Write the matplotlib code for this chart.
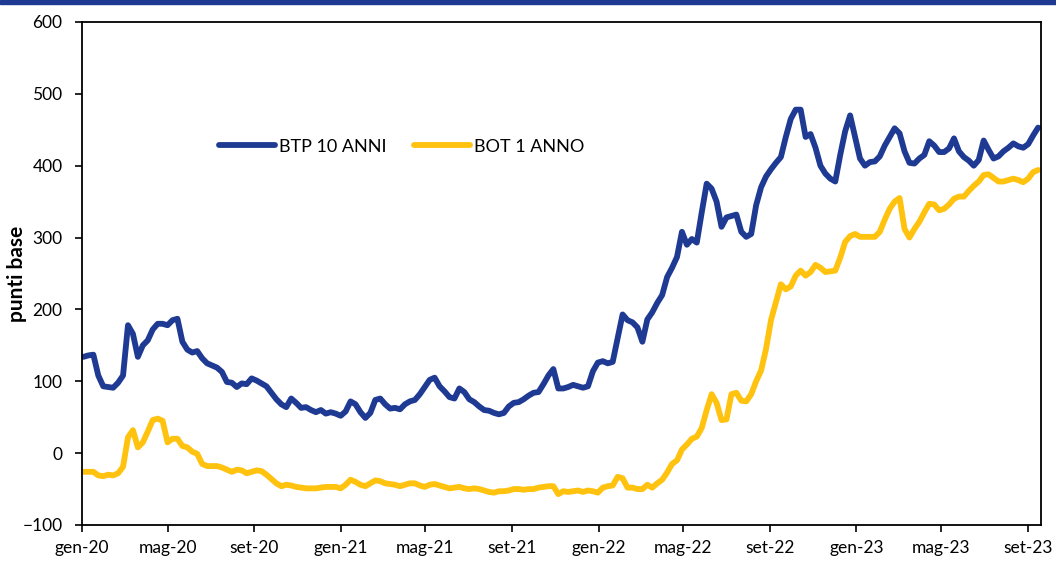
import numpy as np
import pandas as pd
import matplotlib
matplotlib.use('Agg')
import matplotlib.pyplot as plt
from matplotlib.patches import Rectangle

# Dati settimanali (punti base)
date = pd.date_range('2020-01-03', periods=194, freq='7D')

btp_10 = [134, 136, 137, 108, 93, 92, 91, 98, 108, 178,
          166, 134, 150, 157, 172, 180, 180, 178, 185, 187,
          155, 144, 140, 142, 132, 125, 122, 119, 113, 99,
          98, 92, 97, 96, 104, 101, 97, 93, 84, 75,
          68, 64, 76, 70, 63, 64, 60, 57, 60, 55,
          57, 55, 52, 58, 72, 68, 57, 49, 56, 74,
          76, 68, 62, 63, 61, 68, 72, 74, 82, 92,
          102, 105, 93, 86, 78, 76, 90, 85, 75, 71,
          65, 60, 59, 56, 54, 56, 65, 70, 71, 75,
          80, 84, 85, 96, 108, 117, 90, 90, 92, 95,
          93, 91, 93, 114, 126, 128, 125, 127, 160, 193,
          185, 182, 175, 155, 186, 196, 209, 220, 245, 258,
          273, 308, 290, 298, 293, 335, 375, 368, 350, 315,
          328, 330, 332, 308, 301, 305, 345, 370, 385, 395,
          404, 412, 440, 465, 478, 478, 440, 444, 425, 400,
          389, 382, 378, 415, 448, 470, 440, 410, 400, 405,
          406, 413, 428, 440, 452, 445, 420, 404, 403, 410,
          415, 434, 428, 419, 419, 424, 438, 420, 412, 407,
          400, 408, 435, 422, 410, 413, 420, 425, 431, 427,
          425, 430, 442, 453]

bot_1 = [-26, -26, -26, -31, -32, -30, -31, -28, -19, 22,
         32, 8, 15, 30, 46, 48, 45, 15, 20, 20,
         10, 8, 2, -1, -15, -18, -18, -18, -20, -23,
         -26, -23, -24, -28, -26, -24, -25, -30, -36, -42,
         -46, -44, -45, -47, -48, -49, -49, -49, -48, -47,
         -47, -47, -49, -44, -37, -40, -44, -46, -42, -38,
         -39, -42, -43, -44, -46, -44, -42, -42, -45, -47,
         -44, -43, -45, -47, -49, -48, -47, -49, -50, -49,
         -50, -52, -54, -55, -53, -53, -52, -50, -50, -51,
         -50, -50, -48, -47, -46, -46, -57, -53, -54, -53,
         -52, -54, -52, -53, -55, -48, -46, -45, -33, -35,
         -48, -48, -50, -50, -44, -48, -42, -37, -27, -15,
         -10, 5, 12, 20, 23, 35, 60, 82, 70, 46,
         47, 82, 84, 73, 72, 82, 100, 115, 145, 185,
         210, 235, 228, 232, 247, 254, 247, 252, 262, 258,
         252, 253, 254, 272, 294, 302, 305, 301, 301, 301,
         301, 308, 325, 340, 350, 355, 312, 300, 312, 322,
         335, 347, 346, 338, 340, 346, 354, 357, 357, 365,
         372, 378, 387, 388, 383, 378, 378, 380, 382, 380,
         377, 382, 391, 394]

tick_date = pd.date_range('2020-01-01', '2023-09-01', freq='4MS')
tick_lab = ['gen-20', 'mag-20', 'set-20', 'gen-21', 'mag-21', 'set-21',
            'gen-22', 'mag-22', 'set-22', 'gen-23', 'mag-23', 'set-23']

blu = '#1F3A93'
giallo = '#FFC20E'

plt.rcParams['font.family'] = ['Lato', 'DejaVu Sans']

fig = plt.figure(figsize=(10.56, 5.65), dpi=100)
ax = fig.add_axes([0.0777, 0.0708, 0.908, 0.8903])

# banda blu in alto
fig.patches.append(Rectangle((0, 1 - 4 / 565), 1, 4 / 565, transform=fig.transFigure,
                             color=blu, zorder=0))

ax.plot(date, btp_10, color=blu, linewidth=4.2, label='BTP 10 ANNI', solid_capstyle='round')
ax.plot(date, bot_1, color=giallo, linewidth=4.2, label='BOT 1 ANNO', solid_capstyle='round')

ax.set_ylim(-100, 600)
ax.set_yticks(np.arange(-100, 601, 100))
ax.set_xlim(pd.Timestamp('2020-01-01'), pd.Timestamp('2023-09-19'))
ax.set_xticks(tick_date)
ax.set_xticklabels(tick_lab)
ax.tick_params(axis='both', direction='out', length=5, width=1.2, labelsize=12.5, colors='black')
ax.tick_params(axis='y', pad=9)
ax.tick_params(axis='x', pad=6)
for s in ax.spines.values():
    s.set_linewidth(1.3)
    s.set_color('black')

ax.set_ylabel('punti base', fontsize=15, fontweight='bold', labelpad=-3)

ax.legend(loc='center left', bbox_to_anchor=(0.126, 0.752), ncol=2, frameon=False,
          fontsize=13, handlelength=3.1, handletextpad=0.2, columnspacing=1.55)

fig.savefig('out.png', dpi=100)
